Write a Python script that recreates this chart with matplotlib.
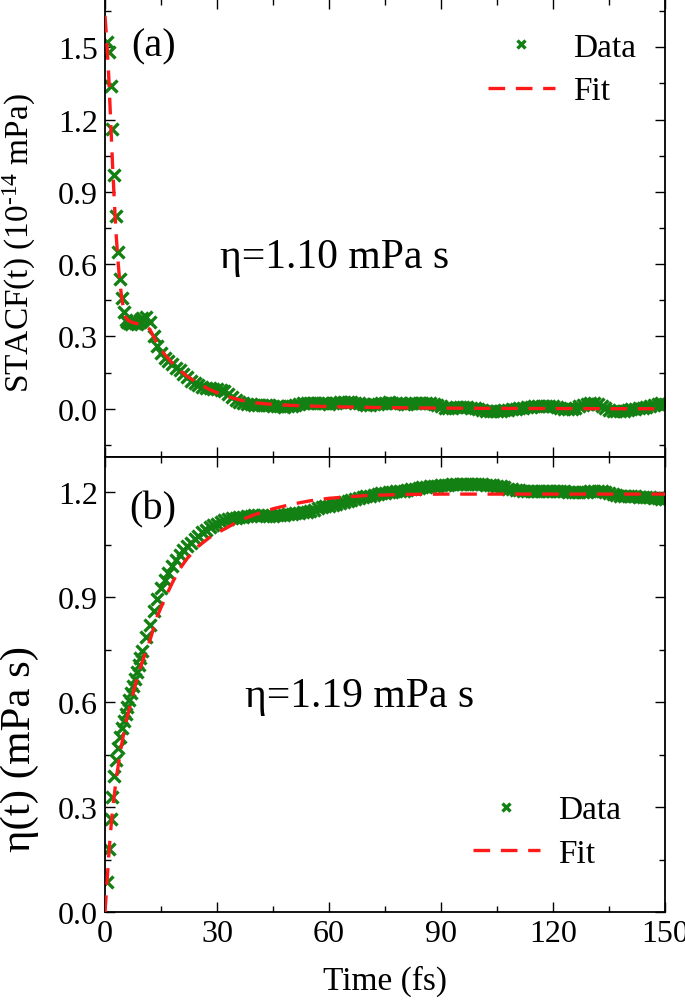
import numpy as np
import matplotlib
matplotlib.use("Agg")
import matplotlib.pyplot as plt
from matplotlib.ticker import MultipleLocator

plt.rcParams['font.family'] = ['Liberation Serif', 'DejaVu Serif']
plt.rcParams['mathtext.fontset'] = 'custom'
plt.rcParams['mathtext.rm'] = 'Liberation Serif'
plt.rcParams['mathtext.it'] = 'Liberation Serif:italic'
plt.rcParams['mathtext.default'] = 'regular'

# ---------------- data ----------------
t_data_early = np.arange(0.5, 10.01, 0.5)
t_data_late = np.arange(11, 151, 1)
t_data = np.concatenate([t_data_early, t_data_late])

stacf_data = [
    1.52, 1.48, 1.34, 1.16, 0.97, 0.80, 0.65, 0.54, 0.46, 0.40,
    0.37, 0.36, 0.355, 0.35, 0.36, 0.355, 0.35, 0.36, 0.37, 0.375,
    0.38, 0.36, 0.30, 0.26, 0.23, 0.21, 0.20, 0.185, 0.17, 0.16,
    0.145, 0.13, 0.115, 0.105, 0.097, 0.092, 0.088, 0.085, 0.083, 0.082,
    0.078, 0.072, 0.062, 0.048, 0.036, 0.028, 0.022, 0.020, 0.018, 0.016,
    0.015, 0.015, 0.014, 0.014, 0.013, 0.012, 0.010, 0.009, 0.010, 0.013,
    0.016, 0.019, 0.022, 0.024, 0.025, 0.026, 0.026, 0.024, 0.022, 0.021,
    0.022, 0.025, 0.028, 0.030, 0.030, 0.029, 0.026, 0.022, 0.018, 0.016,
    0.016, 0.018, 0.021, 0.024, 0.026, 0.027, 0.026, 0.024, 0.022, 0.021,
    0.021, 0.022, 0.024, 0.025, 0.026, 0.026, 0.024, 0.020, 0.015, 0.010,
    0.005, 0.003, 0.004, 0.006, 0.007, 0.007, 0.006, 0.004, 0.002, 0.000,
    -0.004, -0.008, -0.010, -0.011, -0.010, -0.008, -0.006, -0.003, -0.001, 0.001,
    0.003, 0.005, 0.006, 0.008, 0.010, 0.012, 0.013, 0.013, 0.012, 0.010,
    0.007, 0.004, 0.001, -0.001, 0.000, 0.004, 0.010, 0.016, 0.021, 0.024,
    0.024, 0.020, 0.012, 0.002, -0.006, -0.010, -0.011, -0.010, -0.008, -0.005,
    -0.002, 0.000, 0.002, 0.004, 0.007, 0.011, 0.016, 0.021, 0.024, 0.018,
]

eta_data = [
    0.085, 0.18, 0.265, 0.33, 0.39, 0.435, 0.47, 0.50, 0.525, 0.545,
    0.565, 0.585, 0.605, 0.625, 0.645, 0.665, 0.685, 0.705, 0.725, 0.745,
    0.785, 0.82, 0.86, 0.895, 0.925, 0.95, 0.97, 0.99, 1.005, 1.02,
    1.035, 1.045, 1.055, 1.065, 1.075, 1.085, 1.092, 1.099, 1.105, 1.11,
    1.115, 1.119, 1.122, 1.125, 1.127, 1.129, 1.130, 1.131, 1.132, 1.133,
    1.133, 1.133, 1.132, 1.132, 1.132, 1.133, 1.134, 1.135, 1.137, 1.138,
    1.139, 1.140, 1.142, 1.144, 1.147, 1.150, 1.153, 1.156, 1.159, 1.161,
    1.164, 1.166, 1.169, 1.172, 1.175, 1.178, 1.181, 1.184, 1.186, 1.188,
    1.190, 1.192, 1.194, 1.196, 1.198, 1.200, 1.201, 1.202, 1.203, 1.204,
    1.206, 1.208, 1.210, 1.212, 1.214, 1.215, 1.216, 1.217, 1.218, 1.219,
    1.220, 1.221, 1.222, 1.222, 1.223, 1.223, 1.223, 1.223, 1.223, 1.222,
    1.222, 1.221, 1.221, 1.220, 1.218, 1.216, 1.213, 1.210, 1.208, 1.206,
    1.205, 1.204, 1.204, 1.203, 1.203, 1.203, 1.203, 1.204, 1.204, 1.204,
    1.204, 1.203, 1.202, 1.201, 1.200, 1.199, 1.199, 1.200, 1.201, 1.203,
    1.204, 1.204, 1.203, 1.200, 1.197, 1.193, 1.191, 1.190, 1.189, 1.189,
    1.188, 1.188, 1.187, 1.187, 1.186, 1.185, 1.184, 1.182, 1.181, 1.180,
]

t_fit_a = [0, 0.5, 1, 1.5, 2, 2.5, 3, 3.5, 4, 4.5,
           5, 5.5, 6, 7, 8, 10, 12, 14, 16, 18,
           20, 22, 25, 28, 30, 33, 36, 40, 45, 50,
           60, 70, 80, 100, 120, 150]
stacf_fit = [1.63, 1.52, 1.38, 1.20, 1.02, 0.86, 0.72, 0.61, 0.52, 0.46,
             0.41, 0.38, 0.37, 0.36, 0.355, 0.35, 0.33, 0.27, 0.225, 0.19,
             0.16, 0.135, 0.105, 0.08, 0.067, 0.05, 0.037, 0.025, 0.018, 0.014,
             0.009, 0.006, 0.004, 0.002, 0.001, 0.0]

t_fit_b = [0, 0.5, 1, 1.5, 2, 3, 4, 5, 6, 7,
           8, 9, 10, 12, 14, 16, 18, 20, 22, 25,
           28, 30, 33, 36, 40, 45, 50, 55, 60, 70,
           80, 90, 100, 120, 150]
eta_fit = [0.0, 0.08, 0.16, 0.23, 0.29, 0.38, 0.45, 0.51, 0.56, 0.60,
           0.645, 0.68, 0.715, 0.775, 0.845, 0.895, 0.94, 0.98, 1.01, 1.045,
           1.07, 1.083, 1.10, 1.118, 1.135, 1.152, 1.165, 1.175, 1.182, 1.19,
           1.193, 1.194, 1.194, 1.194, 1.194]

x_ticks = [0, 30, 60, 90, 120, 150]
y_ticks_a = [0.0, 0.3, 0.6, 0.9, 1.2, 1.5]
y_ticks_b = [0.0, 0.3, 0.6, 0.9, 1.2]

# ---------------- figure ----------------
fig = plt.figure(figsize=(6.85, 10.03), dpi=100)
L, W = 105 / 685, 560 / 685
ax1 = fig.add_axes([L, 1 - 458 / 1003, W, 458 / 1003])
ax2 = fig.add_axes([L, 1 - 913 / 1003, W, 455 / 1003], sharex=ax1)

green = '#138013'
red = '#ff1a1a'
tick_fs = 23
dash = (0, (5, 3.2))

for ax in (ax1, ax2):
    ax.plot(t_data, stacf_data if ax is ax1 else eta_data, linestyle='none',
            marker='x', markersize=8.5, markeredgewidth=2.4, color=green,
            label='Data', zorder=2)
    if ax is ax1:
        ax.plot(t_fit_a, stacf_fit, linestyle=dash, color=red, lw=2.4,
                label='Fit', zorder=3)
    else:
        ax.plot(t_fit_b, eta_fit, linestyle=dash, color=red, lw=2.4,
                label='Fit', zorder=3)
    ax.set_xlim(0, 150)
    ax.xaxis.set_minor_locator(MultipleLocator(15))
    ax.yaxis.set_minor_locator(MultipleLocator(0.15))
    ax.tick_params(which='both', direction='in', top=True, right=True,
                   labelsize=tick_fs, width=1.0, pad=5)
    ax.tick_params(which='major', length=7)
    ax.tick_params(which='minor', length=4)
    for s in ax.spines.values():
        s.set_linewidth(1.3)

ax1.set_ylim(-0.2, 1.7)
ax1.set_yticks(y_ticks_a)
ax1.set_yticklabels([f'{v:.1f}' for v in y_ticks_a])
ax1.tick_params(labelbottom=False)
ax2.set_ylim(0.0, 1.3)
ax2.set_yticks(y_ticks_b)
ax2.set_yticklabels([f'{v:.1f}' for v in y_ticks_b])
ax2.set_xticks(x_ticks)
ax2.set_xticklabels([str(v) for v in x_ticks])

ax1.set_ylabel(r'STACF(t) (10$^{\text{-14}}$ mPa)', fontsize=24)
ax1.yaxis.set_label_coords(-0.12, 0.47)
ax2.set_ylabel('η(t) (mPa s)', fontsize=31)
ax2.yaxis.set_label_coords(-0.118, 0.36)
ax2.set_xlabel('Time (fs)', fontsize=24, labelpad=12)

ax1.text(0.086, 0.897, '(a)', transform=ax1.transAxes, fontsize=29,
         ha='center', va='center')
ax2.text(0.086, 0.886, '(b)', transform=ax2.transAxes, fontsize=29,
         ha='center', va='center')
ax1.text(0.205, 0.437, 'η=1.10 mPa s', transform=ax1.transAxes,
         fontsize=30, ha='left', va='center')
ax2.text(0.25, 0.475, 'η=1.19 mPa s', transform=ax2.transAxes,
         fontsize=30, ha='left', va='center')

leg_kw = dict(frameon=False, fontsize=24, handlelength=2.0,
              handletextpad=0.55, labelspacing=0.4, borderaxespad=0,
              markerscale=0.7)
ax1.legend(loc='upper right', bbox_to_anchor=(0.972, 0.957), **leg_kw)
ax2.legend(loc='lower right', bbox_to_anchor=(0.945, 0.065), **leg_kw)

fig.savefig('out.png', dpi=100)
